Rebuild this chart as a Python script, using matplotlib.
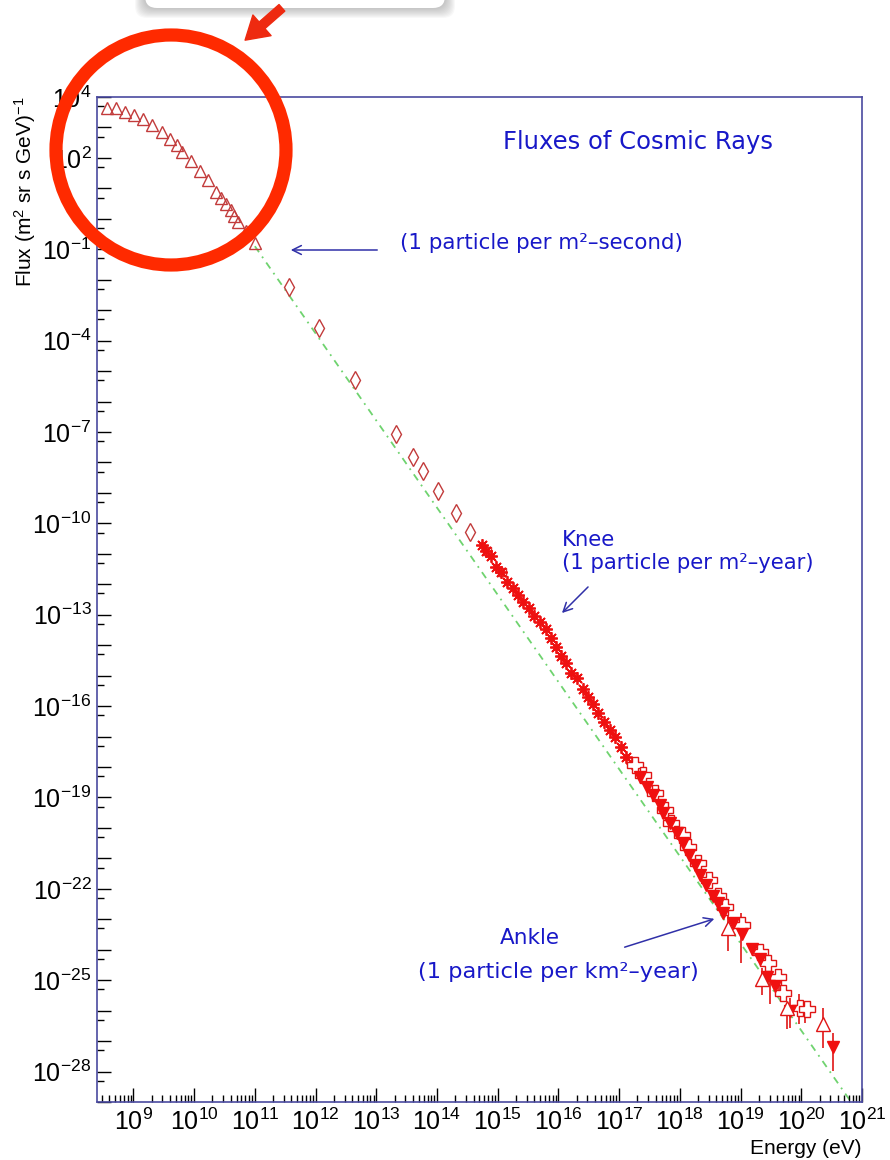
import matplotlib
matplotlib.use('Agg')  # no display
import matplotlib.pyplot as plt
import numpy as np
from matplotlib.patches import Ellipse, FancyBboxPatch
from matplotlib.ticker import FixedLocator, FuncFormatter, NullFormatter

plt.rcParams['font.family'] = ['Liberation Sans', 'DejaVu Sans']
plt.rcParams['mathtext.fontset'] = 'custom'
plt.rcParams['mathtext.rm'] = 'Liberation Sans'
plt.rcParams['mathtext.it'] = 'Liberation Sans:italic'
plt.rcParams['mathtext.default'] = 'regular'

# ---- data (log10 of energy in eV, log10 of flux) ----
# direct measurements, open triangles
tri_logE = [8.56, 8.71, 8.86, 9.01, 9.16, 9.31, 9.47, 9.60, 9.72, 9.80, 9.95,
            10.09, 10.22, 10.36, 10.44, 10.52, 10.60, 10.66, 10.73, 10.85, 11.01]
tri_logF = [3.64, 3.64, 3.51, 3.41, 3.28, 3.08, 2.85, 2.62, 2.42, 2.19, 1.89,
            1.57, 1.27, 0.88, 0.68, 0.48, 0.28, 0.09, -0.11, -0.41, -0.80]

# open diamonds
dia_logE = [11.56, 12.06, 12.65, 13.32, 13.60, 13.77, 14.01, 14.32, 14.54]
dia_logF = [-2.25, -3.57, -5.28, -7.05, -7.81, -8.27, -8.93, -9.66, -10.28]

# filled asterisks (knee region)
star_logE = [14.74, 14.81, 14.89, 14.97, 15.05, 15.15, 15.25, 15.33, 15.42, 15.52,
             15.60, 15.70, 15.80, 15.88, 15.96, 16.04, 16.13, 16.21, 16.31, 16.41,
             16.49, 16.57, 16.65, 16.75, 16.85, 16.93, 17.03, 17.11, 17.21]
star_logF = [-10.70, -10.90, -11.07, -11.43, -11.59, -11.92, -12.12, -12.35, -12.58, -12.78,
             -13.04, -13.24, -13.47, -13.76, -14.06, -14.36, -14.59, -14.91, -15.08, -15.44,
             -15.71, -15.93, -16.23, -16.53, -16.79, -17.02, -17.35, -17.68, -17.88]

# small open squares among the asterisks
sq_logE = [14.82, 15.07]
sq_logF = [-10.90, -11.59]

# filled down triangles
dtri_logE = [17.34, 17.46, 17.56, 17.67, 17.72, 17.84, 17.95, 18.05, 18.15, 18.25,
             18.33, 18.43, 18.55, 18.63, 18.71, 18.88, 19.03, 19.19, 19.32, 19.44,
             19.57, 19.82, 20.52]
dtri_logF = [-18.34, -18.66, -18.93, -19.26, -19.52, -19.85, -20.18, -20.51, -20.90, -21.23,
             -21.56, -21.89, -22.22, -22.48, -22.78, -23.11, -23.47, -23.96, -24.29, -24.91,
             -25.18, -26.00, -27.18]

# open crosses
cross_logE = [17.26, 17.39, 17.59, 17.76, 17.86, 18.04, 18.14, 18.30, 18.48, 18.63,
              18.75, 19.03, 19.32, 19.45, 19.62, 19.70, 19.98, 20.10]
cross_logF = [-17.94, -18.27, -18.86, -19.42, -19.85, -20.24, -20.64, -21.16, -21.72, -22.22,
              -22.61, -23.20, -24.09, -24.45, -24.91, -25.41, -25.90, -25.93]

# open up triangles at the highest energies
uhe_logE = [18.79, 19.35, 19.77, 20.36]
uhe_logF = [-23.30, -24.95, -25.90, -26.43]

# vertical error bars
err_logE = [18.80, 19.00, 19.35, 19.49, 19.63, 19.76, 19.82, 19.96, 20.06, 20.36, 20.52]
err_lo = [-24.03, -24.42, -25.50, -25.77, -25.55, -26.59, -26.56, -26.43, -26.39, -27.22, -27.97]
err_hi = [-22.88, -22.81, -24.60, -25.01, -25.20, -25.74, -25.57, -25.44, -25.74, -25.90, -26.72]

# power law guide line
fit_logE = [11.00, 20.82]
fit_logF = [-0.90, -29.00]

x_label_exp = list(range(9, 22))
y_label_exp = [4, 2, -1, -4, -7, -10, -13, -16, -19, -22, -25, -28]

W, H = 890, 1160
fig = plt.figure(figsize=(W / 100, H / 100), dpi=100)
ax = fig.add_axes([97 / W, 1 - 1102 / H, (862 - 97) / W, (1102 - 97) / H])

ax.set_xscale('log')
ax.set_yscale('log')
ax.set_xlim(10 ** 8.40, 1e21)
ax.set_ylim(1e-29, 1e4)

p = lambda a: 10.0 ** np.asarray(a)

ax.plot(p(fit_logE), p(fit_logF), color='#6fd36f', lw=1.3, ls=(0, (4, 3, 1, 3)), zorder=1)
ax.vlines(p(err_logE), p(err_lo), p(err_hi), color='#e01515', lw=1.2, zorder=2)
ax.plot(p(tri_logE), p(tri_logF), ls='none', marker='^', ms=8, mfc='none', mec='#c23b3b', mew=1.0, zorder=3)
ax.plot(p(dia_logE), p(dia_logF), ls='none', marker='d', ms=9, mfc='none', mec='#c23b3b', mew=1.0, zorder=3)
ax.plot(p(sq_logE), p(sq_logF), ls='none', marker='s', ms=6, mfc='none', mec='#e03030', mew=1.0, zorder=3)
ax.plot(p(star_logE), p(star_logF), ls='none', marker=(8, 2, 0), ms=9, mec='#ee1111', mew=1.3, zorder=4)
ax.plot(p(star_logE), p(star_logF), ls='none', marker='o', ms=3.5, mfc='#ee1111', mec='#ee1111', zorder=4)
ax.plot(p(cross_logE), p(cross_logF), ls='none', marker='P', ms=11, mfc='white', mec='#e01515', mew=1.0, zorder=4)
ax.plot(p(dtri_logE), p(dtri_logF), ls='none', marker='v', ms=9, mfc='#f01010', mec='#f01010', zorder=5)
ax.plot(p(uhe_logE), p(uhe_logF), ls='none', marker='^', ms=10, mfc='white', mec='#e01515', mew=1.0, zorder=5)

# ticks, ROOT style
ax.xaxis.set_major_locator(FixedLocator(p(x_label_exp)))
ax.xaxis.set_minor_locator(FixedLocator([m * 10.0 ** k for k in range(8, 21) for m in range(2, 10)]))
ax.xaxis.set_major_formatter(FuncFormatter(lambda v, pos: f'$10^{{{int(round(np.log10(v)))}}}$'))
ax.xaxis.set_minor_formatter(NullFormatter())

def ylab(v, pos):
    e = int(round(np.log10(v)))
    return f'$10^{{{e}}}$' if e in y_label_exp else ''

ax.yaxis.set_major_locator(FixedLocator(p(range(-29, 5))))
ax.yaxis.set_minor_locator(FixedLocator(0.5 * p(range(-28, 5))))
ax.yaxis.set_major_formatter(FuncFormatter(ylab))
ax.yaxis.set_minor_formatter(NullFormatter())

ax.tick_params(which='both', direction='in', top=False, right=False, colors='black', width=1.0, labelsize=18)
ax.tick_params(which='major', length=10)
ax.tick_params(which='minor', length=5)
ax.tick_params(axis='x', pad=5)
ax.tick_params(axis='y', pad=4)
for s in ax.spines.values():
    s.set_color('#4a4aa0')
    s.set_linewidth(1.2)

fig.text(862 / W, 1 - 1148 / H, 'Energy (eV)', ha='right', va='center', fontsize=15)
fig.text(25 / W, 1 - 97 / H, 'Flux (m$^{2}$ sr s GeV)$^{-1}$', rotation=90,
         ha='center', va='top', fontsize=15)

# overlay in pixel coordinates for the notes
ov = fig.add_axes([0, 0, 1, 1], zorder=10)
ov.set_xlim(0, W)
ov.set_ylim(H, 0)
ov.axis('off')
ov.patch.set_alpha(0)

blue = '#1818c8'
note = dict(color=blue, family=['DejaVu Sans'], va='center', ha='left')
ov.text(638, 142, 'Fluxes of Cosmic Rays', ha='center', color=blue, family=['DejaVu Sans'],
        fontsize=17.5, va='center')
ov.text(400, 243, '(1 particle per m²–second)', fontsize=15.4, **note)
ov.text(562, 540, 'Knee', fontsize=15.2, **note)
ov.text(562, 563, '(1 particle per m²–year)', fontsize=15.2, **note)
ov.text(500, 938, 'Ankle', fontsize=15.5, **note)
ov.text(418, 972, '(1 particle per km²–year)', fontsize=16.2, **note)

arr = dict(arrowstyle='->', color='#3030a8', lw=1.1, mutation_scale=16)
ov.annotate('', xy=(288, 250), xytext=(380, 250), arrowprops=arr)
ov.annotate('', xy=(560, 615), xytext=(590, 585), arrowprops=arr)
ov.annotate('', xy=(717, 918), xytext=(622, 948), arrowprops=arr)

# popup box at the top edge with soft shadow
for i in range(10, 0, -1):
    ov.add_patch(FancyBboxPatch((145 - i, -40), 300 + 2 * i, 48 + i,
                                boxstyle='round,pad=0,rounding_size=12',
                                fc='#808080', ec='none', alpha=0.05))
ov.add_patch(FancyBboxPatch((145, -40), 300, 48, boxstyle='round,pad=0,rounding_size=12',
                            fc='white', ec='none'))

# red highlight circle and arrow
ov.add_patch(Ellipse((171, 150), 230, 230, fill=False, ec='#ff2a00', lw=9.5))
ov.annotate('', xy=(243, 42), xytext=(284, 6),
            arrowprops=dict(arrowstyle='simple,head_length=0.9,head_width=1.1,tail_width=0.35',
                            fc='#ee2a10', ec='#ee2a10', mutation_scale=18))

fig.savefig('out.png', dpi=100)
plt.close(fig)
